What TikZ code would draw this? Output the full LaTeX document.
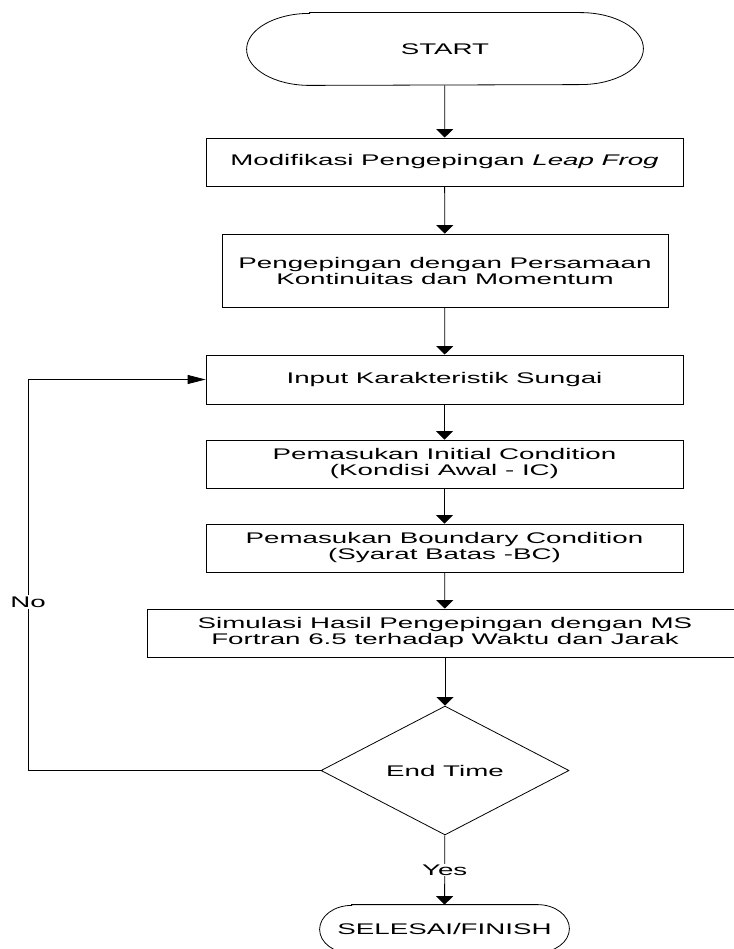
\documentclass[tikz,border=0pt]{standalone}
\usepackage{fontspec}
\setmainfont[FakeStretch=1.8]{Liberation Sans}
\usetikzlibrary{arrows.meta,shapes.geometric}

\newcommand\terminalline[3]{%
  \draw ([xshift=#2]#1.north west) -- ([xshift=-#2]#1.north east)
    arc[start angle=90,end angle=-90,x radius=#2,y radius=#3]
    -- ([xshift=#2]#1.south west)
    arc[start angle=270,end angle=90,x radius=#2,y radius=#3] -- cycle;}

\begin{document}
\begin{tikzpicture}[x=1pt, y=-1pt, line width=0.8pt,
  every node/.style={font=\fontsize{15.4}{16}\selectfont, align=center},
  box/.style={draw, minimum height=48pt, inner sep=0pt},
  terminal/.style={inner sep=0pt},
  decision/.style={draw, diamond, inner sep=0pt, minimum width=248pt, minimum height=105pt},
  arr/.style={-{Triangle[length=8.5pt,width=17pt]}},
  arrside/.style={-{Triangle[length=18pt,width=9pt]}},
  lbl/.style={fill=white, inner sep=1pt}]
  \useasboundingbox (0,0) rectangle (733,949);
  \node[terminal, minimum width=396pt, minimum height=72pt] (start) at (445,49) {START};
  \terminalline{start}{63pt}{36pt}
  \node[box, minimum width=477pt] (modif) at (444.5,162) {Modifikasi Pengepingan \textit{Leap Frog}};
  \node[box, minimum width=446pt, minimum height=73pt] (kontinu) at (445,270.5) {Pengepingan dengan Persamaan\\Kontinuitas dan Momentum};
  \node[box, minimum width=477pt, minimum height=49pt] (input) at (444.5,379.5) {Input Karakteristik Sungai};
  \node[box, minimum width=477pt] (ic) at (444.5,464) {Pemasukan Initial Condition\\(Kondisi Awal - IC)};
  \node[box, minimum width=477pt] (bc) at (444.5,548) {Pemasukan Boundary Condition\\(Syarat Batas -BC)};
  \node[box, minimum width=596pt] (simul) at (445,633) {Simulasi Hasil Pengepingan dengan MS\\Fortran 6.5 terhadap Waktu dan Jarak};
  \node[decision] (endtime) at (445,770.5) {End Time};
  \node[terminal, minimum width=249pt, minimum height=48pt] (finish) at (444.5,929) {SELESAI/FINISH};
  \terminalline{finish}{32pt}{24pt}
  \node[lbl] (no) at (28,602) {No};

  \draw[arr] (start) -- (modif);
  \draw[arr] (modif) -- (kontinu);
  \draw[arr] (kontinu) -- (input);
  \draw[arr] (input) -- (ic);
  \draw[arr] (ic) -- (bc);
  \draw[arr] (bc) -- (simul);
  \draw[arr] (simul) -- (endtime);
  \draw[arr] (endtime) -- node[lbl] (yes) {Yes} (finish);
  \draw[arrside] (endtime.west) -| (no) |- (input.west);
\end{tikzpicture}
\end{document}
